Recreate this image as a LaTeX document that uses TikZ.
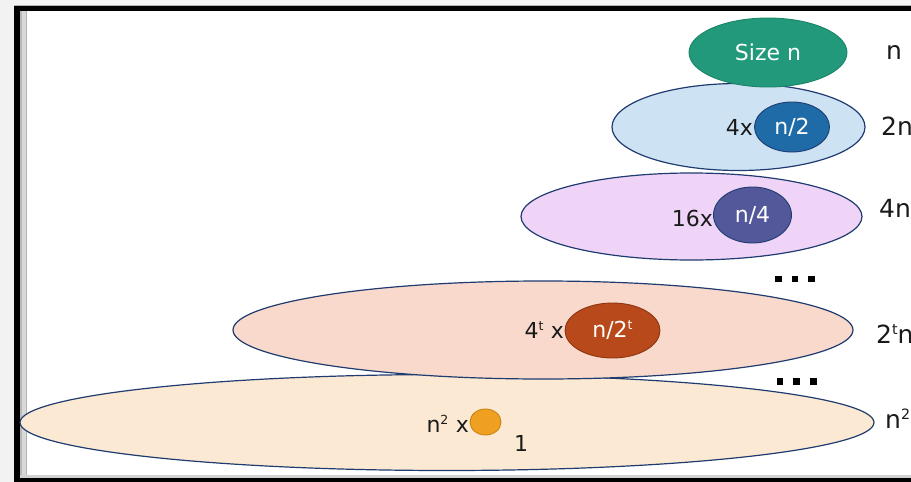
\documentclass[tikz,border=0pt]{standalone}
\usepackage{fontspec}
\setmainfont{DejaVu Sans}
\usetikzlibrary{shapes.geometric}

\definecolor{framegray}{HTML}{F2F2F2}
\definecolor{edgeblue}{HTML}{1F3B70}
\definecolor{lblack}{HTML}{1A1A1A}
\definecolor{cgreen}{HTML}{21997A}
\definecolor{cgreenline}{HTML}{1A8566}
\definecolor{cblue}{HTML}{CDE3F4}
\definecolor{cbluedark}{HTML}{1F6BA8}
\definecolor{cpurple}{HTML}{F0D4F8}
\definecolor{cpurpledark}{HTML}{53589B}
\definecolor{cpeach}{HTML}{F8D9CC}
\definecolor{cbrown}{HTML}{B8491A}
\definecolor{cbrownline}{HTML}{8E3512}
\definecolor{ccream}{HTML}{FCE9D3}
\definecolor{corange}{HTML}{F0A020}
\definecolor{corangeline}{HTML}{C98313}

% small raised index, top aligned with the capitals
\newcommand{\smallsup}[1]{\raisebox{0.36em}{\fontsize{0.57em}{0.57em}\selectfont #1}}

\tikzset{
  level/.style={ellipse, draw=edgeblue, line width=1.2pt, inner sep=0pt},
  sub/.style={ellipse, line width=0.9pt, inner sep=0pt, text=white, font=\fontsize{22}{24}\selectfont},
  lbl/.style={inner sep=0pt, text=lblack, font=\fontsize{22}{24}\selectfont},
  work/.style={lbl, anchor=base west, font=\fontsize{25}{27}\selectfont},
  dotmark/.style={fill=black},
}

\begin{document}
\begin{tikzpicture}[x=1pt, y=-1pt]
  \useasboundingbox (0,0) rectangle (911,482);
  \clip (0,0) rectangle (911,482);

  % window frame
  \fill[framegray] (0,0) rectangle (911,482);
  \fill[black] (14,5.7) rectangle (911,482);
  \fill[white] (20,11) rectangle (911,475);
  \fill[gray!60] (14,5) rectangle (911,5.7);
  \fill[gray!55] (20,11) rectangle (22,475);
  \fill[gray!30] (22,11) rectangle (26,475);
  \fill[gray!60] (26,11) rectangle (27,475);
  \fill[gray!35] (20,475) rectangle (911,477.8);

  % levels, bottom to top so the upper ones overlap the lower ones
  \node[level, fill=ccream, minimum width=854, minimum height=96] (l5) at (447,422.5) {};
  \node[level, fill=cpeach, minimum width=620, minimum height=98] (l4) at (543,330) {};
  \node[level, fill=cpurple, minimum width=341, minimum height=87] (l3) at (691.5,216.5) {};
  \node[level, fill=cblue, minimum width=253, minimum height=87] (l2) at (738.5,127) {};
  \node[sub, fill=cgreen, draw=cgreenline, minimum width=158, minimum height=69] (l1) at (768,52.5) {Size n};

  % subproblems
  \node[sub, fill=cbluedark, draw=edgeblue, minimum width=75, minimum height=50] (s2) at (792,127) {n/2};
  \node[sub, fill=cpurpledark, draw=edgeblue, minimum width=78, minimum height=56] (s3) at (752.5,215) {n/4};
  \node[sub, fill=cbrown, draw=cbrownline, minimum width=95, minimum height=55] (s4) at (612.5,330.5) {n/2\smallsup{t}};
  \node[sub, fill=corange, draw=corangeline, minimum width=31, minimum height=26] (s5) at (485.5,422) {};

  % multiplicities
  \node[lbl, anchor=base east] (m2) at (753,135) {4x};
  \node[lbl, anchor=base east] (m3) at (713,226) {16x};
  \node[lbl, anchor=base east] (m4) at (564,338) {4\smallsup{t}\,\,x};
  \node[lbl, anchor=base east] (m5) at (469,432) {n\smallsup{2}\,\,x};
  \node[lbl, anchor=base] (one) at (521,451) {1};

  % total work per level
  \node[work] (w1) at (886,59) {n};
  \node[work] (w2) at (881,135) {2n};
  \node[work] (w3) at (879,217) {4n};
  \node[work] (w4) at (876,343) {2\smallsup{t}n};
  \node[work] (w5) at (885,428) {n\smallsup{2}};

  % ellipsis marks between levels
  \foreach \x in {778.5,795,811.5} {
    \fill[dotmark] (\x-3.3,275.5) rectangle (\x+3.3,282);
  }
  \foreach \x in {780,796.5,813.5} {
    \fill[dotmark] (\x-3.3,378) rectangle (\x+3.3,384.5);
  }
\end{tikzpicture}
\end{document}
